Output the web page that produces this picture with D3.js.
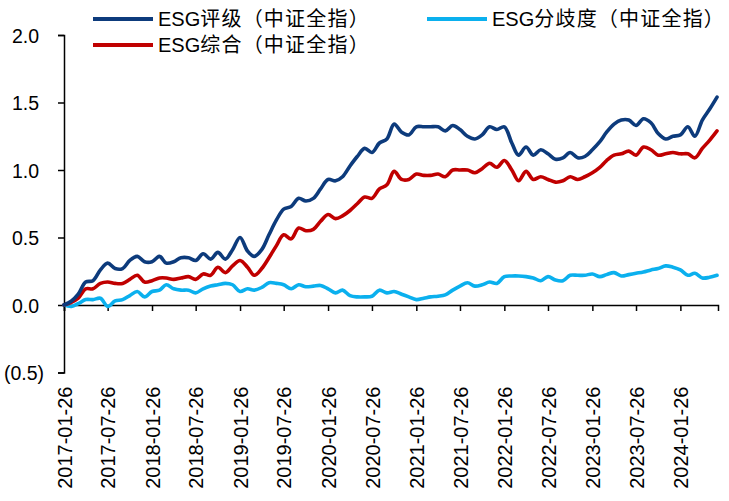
<!DOCTYPE html>
<html>
<head>
<meta charset="utf-8">
<script src="https://cdn.jsdelivr.net/npm/d3@7"></script>
<style>
  html, body { margin: 0; padding: 0; background: #fff; }
  svg { display: block; }
  text { font-family: "Liberation Sans", Arial, "Noto Sans CJK SC", sans-serif; fill: #000; }
</style>
</head>
<body>
<div id="chart"></div>
<script>
// monthly samples (26th of each month), 2017-01 .. 2024-06
const dates = d3.timeMonth.range(new Date(2017, 0, 1), new Date(2024, 6, 1)).map(d => new Date(d.getFullYear(), d.getMonth(), 26));

const ratingValues = [
  0.00, 0.03, 0.08, 0.17, 0.18, 0.26, 0.31, 0.27, 0.27, 0.33, 0.36, 0.32,
  0.32, 0.36, 0.31, 0.32, 0.35, 0.35, 0.33, 0.38, 0.34, 0.39, 0.34, 0.41,
  0.50, 0.40, 0.36, 0.41, 0.52, 0.63, 0.71, 0.73, 0.79, 0.77, 0.79, 0.86,
  0.93, 0.92, 0.95, 1.03, 1.10, 1.16, 1.13, 1.20, 1.23, 1.34, 1.28, 1.26,
  1.32, 1.32, 1.32, 1.32, 1.29, 1.33, 1.30, 1.25, 1.23, 1.26, 1.32, 1.30,
  1.32, 1.20, 1.11, 1.17, 1.11, 1.15, 1.12, 1.08, 1.09, 1.13, 1.09, 1.10,
  1.15, 1.21, 1.28, 1.34, 1.37, 1.37, 1.33, 1.38, 1.35, 1.27, 1.23, 1.25,
  1.26, 1.32, 1.25, 1.37, 1.45, 1.54
];

const divergenceValues = [
  0.00, -0.01, 0.01, 0.04, 0.04, 0.05, -0.01, 0.03, 0.04, 0.07, 0.10, 0.06,
  0.10, 0.11, 0.15, 0.12, 0.11, 0.11, 0.09, 0.12, 0.14, 0.15, 0.16, 0.15,
  0.10, 0.12, 0.11, 0.13, 0.165, 0.16, 0.15, 0.12, 0.15, 0.135, 0.14, 0.145,
  0.12, 0.09, 0.11, 0.07, 0.06, 0.06, 0.065, 0.11, 0.09, 0.10, 0.08, 0.06,
  0.04, 0.05, 0.06, 0.065, 0.075, 0.11, 0.14, 0.165, 0.14, 0.15, 0.17, 0.16,
  0.21, 0.215, 0.215, 0.21, 0.20, 0.18, 0.21, 0.185, 0.18, 0.22, 0.22, 0.22,
  0.23, 0.21, 0.225, 0.24, 0.215, 0.225, 0.235, 0.245, 0.26, 0.27, 0.29, 0.28,
  0.26, 0.22, 0.235, 0.20, 0.205, 0.22
];

const compositeValues = [
  0.00, 0.02, 0.05, 0.12, 0.12, 0.16, 0.17, 0.16, 0.16, 0.19, 0.22, 0.17,
  0.18, 0.20, 0.20, 0.19, 0.20, 0.21, 0.19, 0.23, 0.22, 0.28, 0.24, 0.29,
  0.33, 0.28, 0.22, 0.27, 0.35, 0.44, 0.52, 0.49, 0.57, 0.55, 0.56, 0.62,
  0.67, 0.64, 0.66, 0.70, 0.75, 0.80, 0.79, 0.86, 0.89, 0.99, 0.93, 0.93,
  0.97, 0.96, 0.96, 0.97, 0.95, 1.00, 1.00, 1.00, 0.98, 1.01, 1.05, 1.02,
  1.07, 1.00, 0.92, 0.99, 0.93, 0.95, 0.93, 0.91, 0.92, 0.95, 0.93, 0.95,
  0.98, 1.02, 1.07, 1.11, 1.12, 1.14, 1.11, 1.17, 1.15, 1.11, 1.12, 1.13,
  1.12, 1.12, 1.09, 1.16, 1.22, 1.29
];

const seriesNames = ["ESG评级（中证全指）", "ESG分歧度（中证全指）", "ESG综合（中证全指）"];
const seriesColors = ["#0d3b7c", "#0bb0ee", "#c00000"];

const xTickLabels = [
  "2017-01-26", "2017-07-26", "2018-01-26", "2018-07-26", "2019-01-26", "2019-07-26",
  "2020-01-26", "2020-07-26", "2021-01-26", "2021-07-26", "2022-01-26", "2022-07-26",
  "2023-01-26", "2023-07-26", "2024-01-26"
];
const yTicks = [-0.5, 0, 0.5, 1.0, 1.5, 2.0];

const W = 729, H = 501;
const margin = { left: 64, right: 11, top: 35, bottom: 128.5 };

const parse = d3.timeParse("%Y-%m-%d");

const svg = d3.select("#chart").append("svg")
  .attr("width", W).attr("height", H);

const x = d3.scaleTime()
  .domain([parse("2017-01-26"), parse("2024-06-30")])
  .range([margin.left, W - margin.right]);

const y = d3.scaleLinear()
  .domain([-0.5, 2.0])
  .range([H - margin.bottom, margin.top]);

// y axis
const yAxis = svg.append("g")
  .attr("transform", `translate(${margin.left},0)`)
  .call(d3.axisLeft(y).tickValues(yTicks).tickSize(6).tickPadding(0)
    .tickFormat(d => d < 0 ? `(${d3.format(".1f")(-d)})` : d3.format(".1f")(d)));
yAxis.select(".domain").attr("stroke", "#000").attr("stroke-width", 1.5);
yAxis.selectAll(".tick line").attr("stroke", "#000").attr("stroke-width", 1.5);
yAxis.selectAll(".tick text")
  .attr("x", d => d < 0 ? -20 : -25)
  .style("font-size", "19.5px")
  .attr("dy", "0.36em");

// x axis on the zero line
const xAxis = svg.append("g")
  .attr("transform", `translate(0,${y(0)})`)
  .call(d3.axisBottom(x).tickValues(xTickLabels.map(parse)).tickSize(6)
    .tickFormat(d3.timeFormat("%Y-%m-%d")));
xAxis.select(".domain").attr("stroke", "#000").attr("stroke-width", 1.5);
xAxis.selectAll(".tick line").attr("stroke", "#000").attr("stroke-width", 1.5);
xAxis.selectAll(".tick text")
  .style("font-size", "20px")
  .attr("text-anchor", "end")
  .attr("transform", "rotate(-90)")
  .attr("x", -(y(-0.5) - y(0)) - 14)
  .attr("y", 0)
  .attr("dy", "0.36em");

// lines
const line = d3.line()
  .x((d, i) => x(dates[i]))
  .y(d => y(d))
  .curve(d3.curveCatmullRom.alpha(0.5));

const seriesData = [ratingValues, divergenceValues, compositeValues];
// draw light blue first, then red, then dark blue on top
[1, 2, 0].forEach(k => {
  svg.append("path")
    .datum(seriesData[k])
    .attr("fill", "none")
    .attr("stroke", seriesColors[k])
    .attr("stroke-width", 3.6)
    .attr("stroke-linejoin", "round")
    .attr("stroke-linecap", "round")
    .attr("d", line);
});

// legend
const legendPos = [
  { lx: 93, ly: 19 },
  { lx: 427, ly: 19 },
  { lx: 93, ly: 45 }
];
seriesNames.forEach((name, k) => {
  const p = legendPos[k];
  const g = svg.append("g").attr("transform", `translate(${p.lx},${p.ly})`);
  g.append("line")
    .attr("x1", 0).attr("x2", 60).attr("y1", 0).attr("y2", 0)
    .attr("stroke", seriesColors[k]).attr("stroke-width", 4);
  const t = g.append("text")
    .attr("x", 65).attr("y", 0).attr("dy", "0.36em")
    .style("font-size", "20px");
  t.append("tspan").text(name.slice(0, 3));
  t.append("tspan").style("letter-spacing", "1.2px").text(name.slice(3));
});
</script>
</body>
</html>
